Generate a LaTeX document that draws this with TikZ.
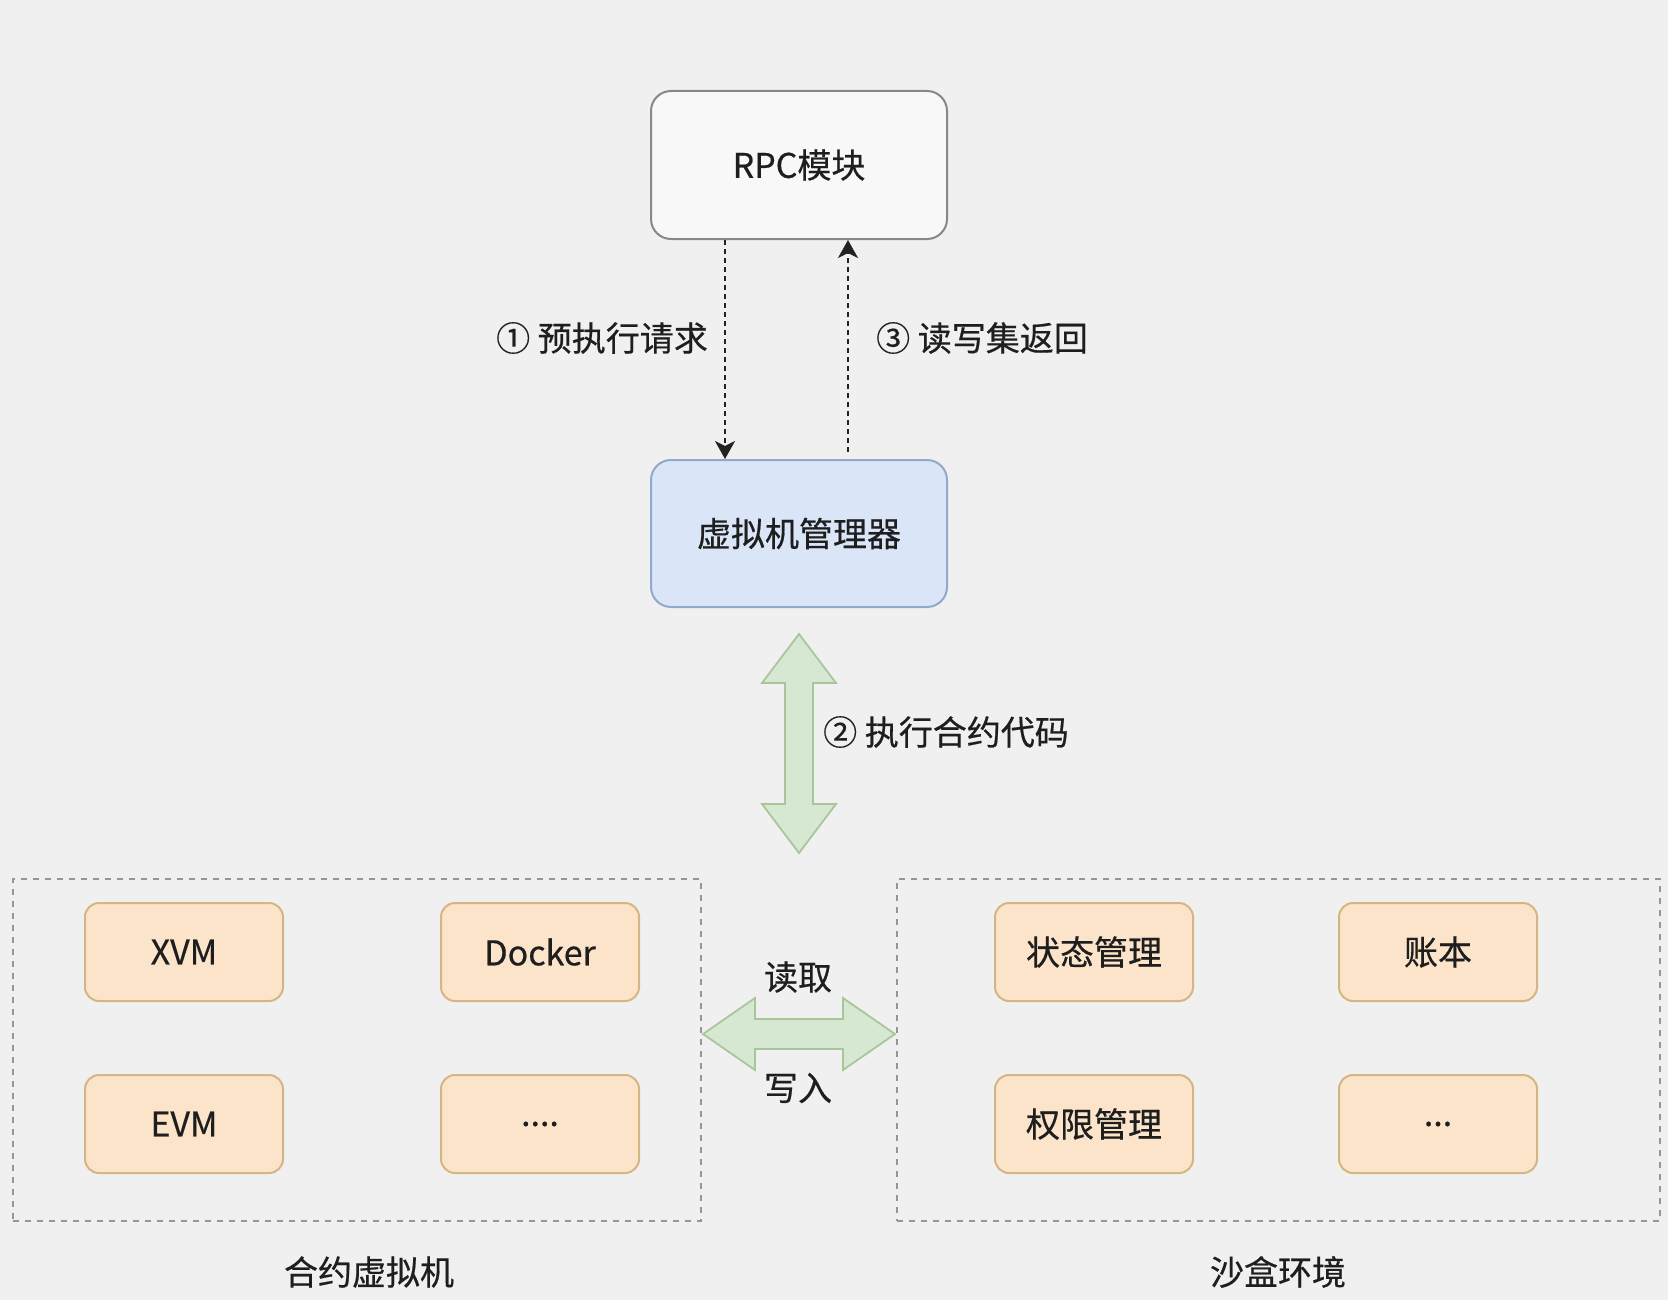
\documentclass[tikz,border=0pt]{standalone}
\usepackage{fontspec}
\setmainfont{Noto Sans CJK SC}[FakeBold=0.5]
\usetikzlibrary{arrows.meta}
\definecolor{bg}{HTML}{F0F0F0}
\definecolor{txt}{HTML}{1E1E1E}
\definecolor{rpcfill}{HTML}{F8F8F8}
\definecolor{rpcdraw}{HTML}{888888}
\definecolor{vmfill}{HTML}{DAE6F8}
\definecolor{vmdraw}{HTML}{93A9CC}
\definecolor{orfill}{HTML}{FBE4CA}
\definecolor{ordraw}{HTML}{D6B585}
\definecolor{grfill}{HTML}{D6E8D2}
\definecolor{grdraw}{HTML}{A9C69B}
\definecolor{boxdash}{HTML}{969696}
\definecolor{arrowc}{HTML}{222222}
\begin{document}
\begin{tikzpicture}[x=0.5pt,y=-0.5pt,
  every node/.style={text=txt, font=\fontsize{17pt}{20pt}\selectfont},
  rpcbox/.style={draw=rpcdraw, fill=rpcfill, line width=1pt, rounded corners=10pt, minimum width=148pt, minimum height=74pt},
  vmbox/.style={draw=vmdraw, fill=vmfill, line width=1pt, rounded corners=10pt, minimum width=148pt, minimum height=73.5pt},
  orbox/.style={draw=ordraw, fill=orfill, line width=1pt, rounded corners=7pt, minimum width=99pt, minimum height=49pt},
  groupbox/.style={draw=boxdash, dash pattern=on 3pt off 3pt, line width=0.75pt},
  dotarrow/.style={draw=arrowc, line width=1.1pt, dash pattern=on 2.5pt off 2pt, -{Stealth[length=9pt,width=10pt,inset=2.5pt]}},
  greenarrow/.style={draw=grdraw, fill=grfill, line width=0.9pt, line join=miter},
  lbl/.style={text=txt}
]
\fill[bg] (0,0) rectangle (1668,1300);
\useasboundingbox (0,0) rectangle (1668,1300);

% containers
\node[groupbox, minimum width=344pt, minimum height=171pt] (vmgroup) at (357,1050) {};
\node[groupbox, minimum width=381.5pt, minimum height=171pt] (sbgroup) at (1278.5,1050) {};

% main boxes
\node[rpcbox] (rpc) at (799,165) {RPC模块};
\node[vmbox] (vm) at (799,533.5) {虚拟机管理器};

% orange boxes
\node[orbox] (xvm) at (184,952) {XVM};
\node[orbox] (docker) at (540,952) {Docker};
\node[orbox] (evm) at (184,1124) {EVM};
\node[orbox] (more1) at (540,1124) {....};
\node[orbox] (state) at (1094,952) {状态管理};
\node[orbox] (ledger) at (1438,952) {账本};
\node[orbox] (perm) at (1094,1124) {权限管理};
\node[orbox] (more2) at (1438,1124) {...};

% dotted arrows
\draw[dotarrow] ([xshift=-37pt]rpc.south) -- ([xshift=-37pt]vm.north);
\draw[dotarrow] ([xshift=24.5pt,yshift=3.5pt]vm.north) -- ([xshift=24.5pt]rpc.south);

% green block arrows
\path[greenarrow] (799,634) -- (836,683) -- (813,683) -- (813,804) -- (836,804) -- (799,853) -- (762,804) -- (785,804) -- (785,683) -- (762,683) -- cycle;
\path[greenarrow] (703,1034) -- (755,998) -- (755,1019) -- (843,1019) -- (843,998) -- (895,1034) -- (843,1070) -- (843,1049) -- (755,1049) -- (755,1070) -- cycle;

% labels
\node[lbl] (l1) at (602,338) {① 预执行请求};
\node[lbl] (l3) at (982,338) {③ 读写集返回};
\node[lbl] (l2) at (946,732) {② 执行合约代码};
\node[lbl] (lread) at (798,977) {读取};
\node[lbl] (lwrite) at (798,1088) {写入};
\node[lbl] (gvm) at (369,1272) {合约虚拟机};
\node[lbl] (gsb) at (1278,1272) {沙盒环境};
\end{tikzpicture}
\end{document}
